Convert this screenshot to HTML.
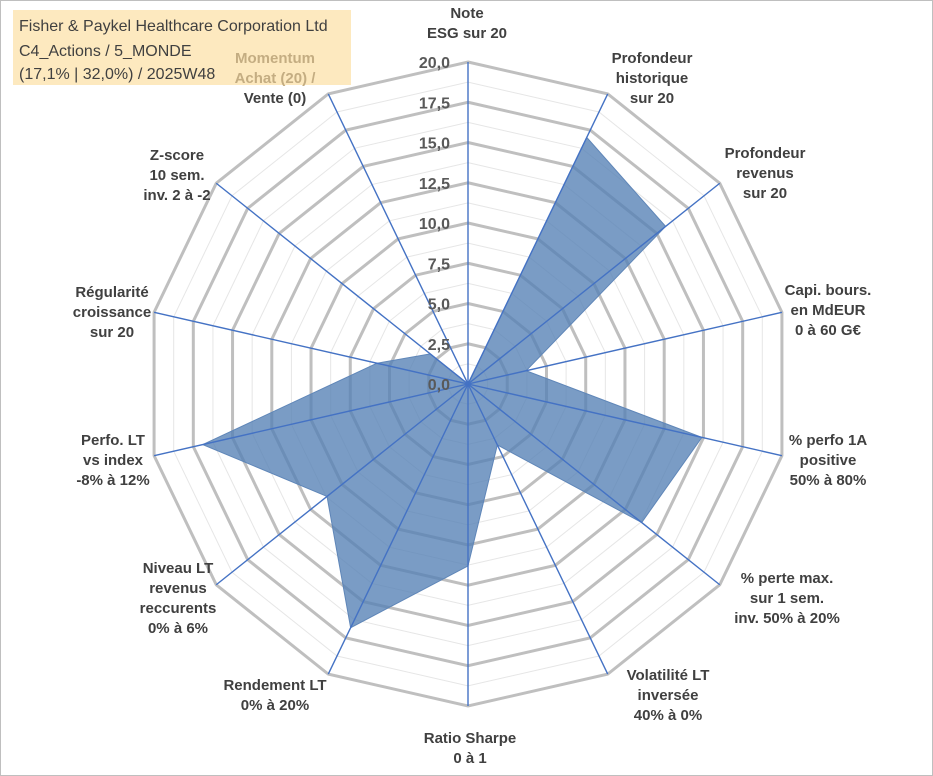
<!DOCTYPE html>
<html><head><meta charset="utf-8"><style>
body{margin:0;background:#fff;}
svg{display:block;font-family:"Liberation Sans",Arial,sans-serif;}
</style></head><body>
<svg width="933" height="776" viewBox="0 0 933 776">
<rect x="0.5" y="0.5" width="932" height="775" fill="#fff" stroke="#bfbfbf"/>
<rect x="13" y="10" width="338" height="75" fill="#fde9bf"/>
<text x="19" y="31" font-size="16" fill="#404040">Fisher &amp; Paykel Healthcare Corporation Ltd</text>
<text x="19" y="56" font-size="16" fill="#404040">C4_Actions / 5_MONDE</text>
<text x="19" y="79" font-size="16" fill="#404040">(17,1% | 32,0%) / 2025W48</text>
<g id="grid"></g><g id="series"></g><g id="axes"></g><g id="ticks"></g><g id="labels"></g>
</svg>
<script>
const categories=[["Note","ESG sur 20"],["Profondeur","historique","sur 20"],["Profondeur","revenus","sur 20"],["Capi. bours.","en MdEUR","0 à 60 G€"],["% perfo 1A","positive","50% à 80%"],["% perte max.","sur 1 sem.","inv. 50% à 20%"],["Volatilité LT","inversée","40% à 0%"],["Ratio Sharpe","0 à 1"],["Rendement LT","0% à 20%"],["Niveau LT","revenus","reccurents","0% à 6%"],["Perfo. LT","vs index","-8% à 12%"],["Régularité","croissance","sur 20"],["Z-score","10 sem.","inv. 2 à -2"],["Momentum","Achat (20) /","Vente (0)"]];
const values=[0,17.0,15.7,3.7,14.9,13.8,4.2,11.3,16.8,11.2,16.9,5.8,3.0,0];
const tickLabels=["0,0","2,5","5,0","7,5","10,0","12,5","15,0","17,5","20,0"];
const maxV=20;
const cx=468,cy=384,R=322,N=categories.length;
const NS="http://www.w3.org/2000/svg";
function ang(i){return i*2*Math.PI/N;}
function pt(i,v){const r=v/maxV*R,a=ang(i);return [cx+r*Math.sin(a),cy-r*Math.cos(a)];}
function mk(t,attrs,parent){const e=document.createElementNS(NS,t);for(const k in attrs)e.setAttribute(k,attrs[k]);document.getElementById(parent).appendChild(e);return e;}
for(let s=1;s<=16;s++){const v=s*1.25;const p=[];for(let i=0;i<N;i++)p.push(pt(i,v).join(","));
 const major=s%2===0;
 const e=mk("polygon",{points:p.join(" "),fill:"none",stroke:major?"#bfbfbf":"#e6e6e6","stroke-width":major?3:1},"grid");
 
 }
const sp=values.map((v,i)=>pt(i,v).join(",")).join(" ");
const poly=mk("polygon",{points:sp,fill:"#5580b5","fill-opacity":"0.78",stroke:"#5f86b8","stroke-width":1},"series");


for(let i=0;i<N;i++){const [x,y]=pt(i,maxV);
 const l=mk("line",{x1:cx,y1:cy,x2:x,y2:y,stroke:"#4472c4","stroke-width":1.4},"axes");
 
 }
tickLabels.forEach((t,k)=>{const y=cy-(k*2.5)/maxV*R;
 const e=mk("text",{x:cx-18,y:y+6,"text-anchor":"end","font-size":16,"font-weight":"bold",fill:"#595959"},"ticks");
 e.textContent=t;
 
 });
const lp=[[467,18],[652,63],[765,158],[828,295],[828,445],[787,583],[668,680],[470,743],[275,690],[178,573],[113,445],[112,297],[177,160],[275,63]];
categories.forEach((c,i)=>{c.forEach((line,j)=>{
 const e=mk("text",{x:lp[i][0],y:lp[i][1]+j*20,"text-anchor":"middle","font-size":15,"font-weight":"bold",fill:(i===13&&j<2)?"#c4ad82":"#404040"},"labels");
 e.textContent=line;
 
 });});
</script>
</body></html>
